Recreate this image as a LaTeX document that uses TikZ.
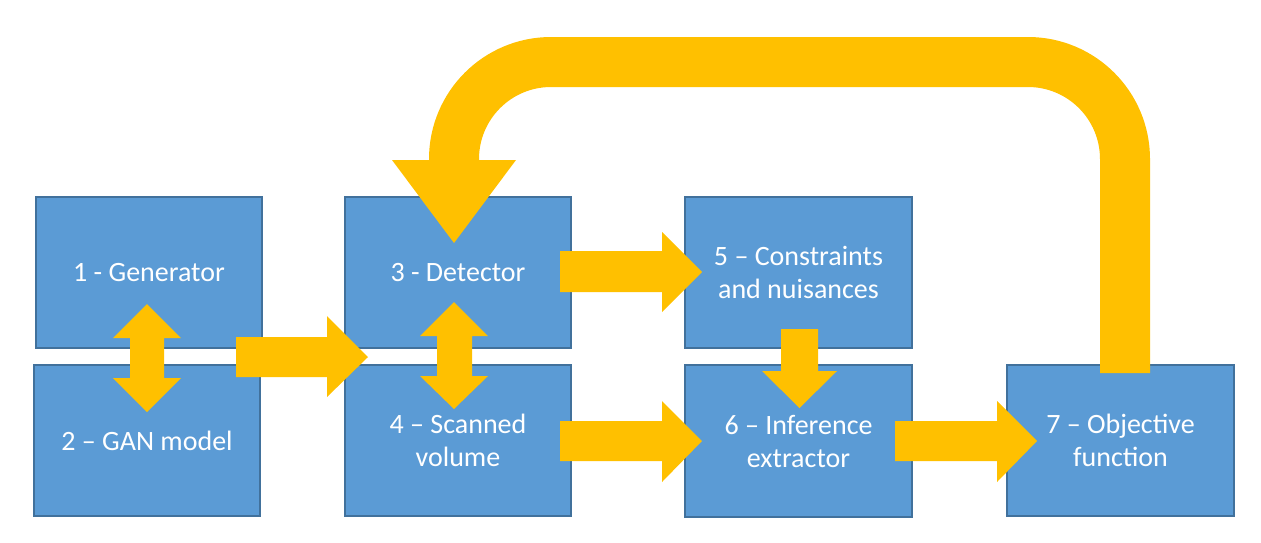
\documentclass[tikz,border=0pt]{standalone}
\usepackage{fontspec}
\setmainfont{Carlito}
\definecolor{boxfill}{HTML}{5B9BD5}
\definecolor{boxline}{HTML}{41719C}
\definecolor{arrowc}{HTML}{FFC000}
\begin{document}
\begin{tikzpicture}[x=1pt,y=-1pt,
  box/.style={draw=boxline, line width=2pt, fill=boxfill, text=white,
    minimum width=226pt, minimum height=151pt, inner sep=0pt, align=center,
    font=\fontsize{28pt}{33pt}\selectfont},
  blk/.style={fill=arrowc, draw=none}]
\useasboundingbox (0,0) rectangle (1261,542);
\node[box] (b1) at (149,272.5) {1 - Generator};
\node[box] (b2) at (147,440.5) {2 – GAN model};
\node[box] (b3) at (458,272.5) {3 - Detector};
\node[box] (b4) at (458,440.5) {4 – Scanned\\volume};
\node[box, minimum width=227pt] (b5) at (798.5,272.5) {5 – Constraints\\and nuisances};
\node[box, minimum width=227pt, minimum height=152pt] (b6) at (798.5,441) {6 – Inference\\extractor};
\node[box, minimum width=227pt] (b7) at (1120.5,440.5) {7 – Objective\\function};
% 1 <-> 2
\fill[blk] (147,304) -- (181,338) -- (164,338) -- (164,378) -- (181,378) -- (147,412)
  -- (113,378) -- (130,378) -- (130,338) -- (113,338) -- cycle;
% 1/2 -> 3/4
\fill[blk] (236,337) -- (327,337) -- (327,316) -- (368,357) -- (327,397) -- (327,377) -- (236,377) -- cycle;
% 3 <-> 4
\fill[blk] (454,302) -- (488,336) -- (472,336) -- (472,376) -- (488,376) -- (454,409)
  -- (420,376) -- (437,376) -- (437,336) -- (420,336) -- cycle;
% 3 -> 5
\fill[blk] (560,251) -- (662,251) -- (662,232) -- (702,272) -- (662,312) -- (662,292) -- (560,292) -- cycle;
% 4 -> 6
\fill[blk] (560,421) -- (662,421) -- (662,401) -- (702,441) -- (662,482) -- (662,461) -- (560,461) -- cycle;
% 5 -> 6
\fill[blk] (781,329) -- (818,329) -- (818,371) -- (837,371) -- (799.5,408) -- (762,371) -- (781,371) -- cycle;
% 6 -> 7
\fill[blk] (895,421) -- (997,421) -- (997,401) -- (1037,441) -- (997,482) -- (997,461) -- (895,461) -- cycle;
% feedback 7 -> 3
\draw[arrowc, line width=50pt, rounded corners=97pt] (1125,373) -- (1125,62) -- (454,62) -- (454,161);
\fill[blk] (392,160) -- (516,160) -- (454,243) -- cycle;
\end{tikzpicture}
\end{document}
